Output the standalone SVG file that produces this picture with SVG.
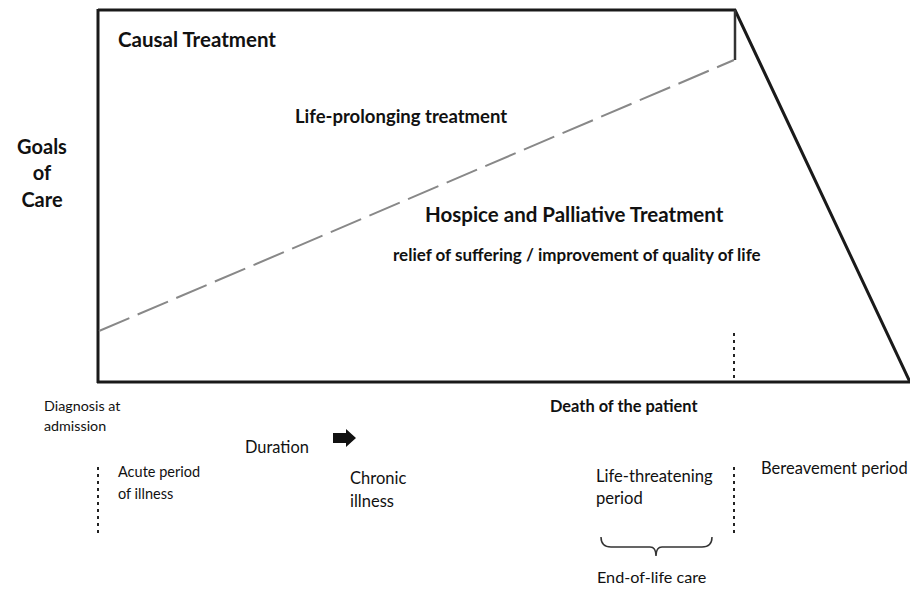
<svg xmlns="http://www.w3.org/2000/svg" width="910" height="591" viewBox="0 0 910 591">
<style>
text{font-family:Lato,"Open Sans","Liberation Sans",sans-serif;fill:#111}
.b{font-weight:bold}
.ln{stroke:#1a1a1a;stroke-width:3;fill:none}
.dot{stroke:#222;stroke-width:2;stroke-dasharray:3,4;fill:none}
</style>
<rect width="910" height="591" fill="#fff"/>
<g id="connectors">
<polyline class="ln" points="98,10 735,10 910,382"/>
<line class="ln" x1="98" y1="9" x2="98" y2="383"/>
<line class="ln" x1="97" y1="382" x2="910" y2="382"/>
<line x1="735" y1="10" x2="735" y2="60" stroke="#333" stroke-width="2.5"/>
<line x1="99" y1="331" x2="734" y2="60" stroke="#888" stroke-width="2" stroke-dasharray="33,9"/>
<line class="dot" x1="734" y1="333" x2="734" y2="381"/>
<line class="dot" x1="98" y1="467" x2="98" y2="534"/>
<line class="dot" x1="734" y1="467" x2="734" y2="534"/>
<path d="M601,537 Q601,547 611,547 L650,547 Q656,547 656,556 Q656,547 662,547 L702,547 Q712,547 712,537" fill="none" stroke="#333" stroke-width="1.5"/>
<polygon points="333,433 346,433 346,429 356,438 346,447 346,443 333,443" fill="#111"/>
</g>
<g id="causal"><text class="b" x="118" y="47" font-size="20.5">Causal Treatment</text></g>
<g id="prolong"><text class="b" x="295" y="123" font-size="18.5">Life-prolonging treatment</text></g>
<g id="hospice"><text class="b" x="425" y="222" font-size="20.5">Hospice and Palliative Treatment</text>
<text class="b" x="393" y="261" font-size="17">relief of suffering / improvement of quality of life</text></g>
<g id="goals"><text class="b" font-size="20" text-anchor="middle"><tspan x="42" y="154">Goals</tspan><tspan x="42" y="180">of</tspan><tspan x="42" y="207">Care</tspan></text></g>
<g id="diagnosis"><text font-size="14.3"><tspan x="44" y="411">Diagnosis at</tspan><tspan x="44" y="431">admission</tspan></text></g>
<g id="duration"><text x="245" y="453" font-size="16.4">Duration</text></g>
<g id="acute"><text font-size="14.5"><tspan x="118" y="477">Acute period</tspan><tspan x="118" y="499">of illness</tspan></text></g>
<g id="chronic"><text font-size="16.5"><tspan x="350" y="484">Chronic</tspan><tspan x="350" y="507">illness</tspan></text></g>
<g id="death"><text class="b" x="550" y="412" font-size="16.4">Death of the patient</text></g>
<g id="lifethreat"><text font-size="16.6"><tspan x="596" y="482">Life-threatening</tspan><tspan x="596" y="504">period</tspan></text></g>
<g id="bereavement"><text x="761" y="474" font-size="16.5">Bereavement period</text></g>
<g id="endoflife"><text x="597" y="583" font-size="16.2">End-of-life care</text></g>
</svg>
